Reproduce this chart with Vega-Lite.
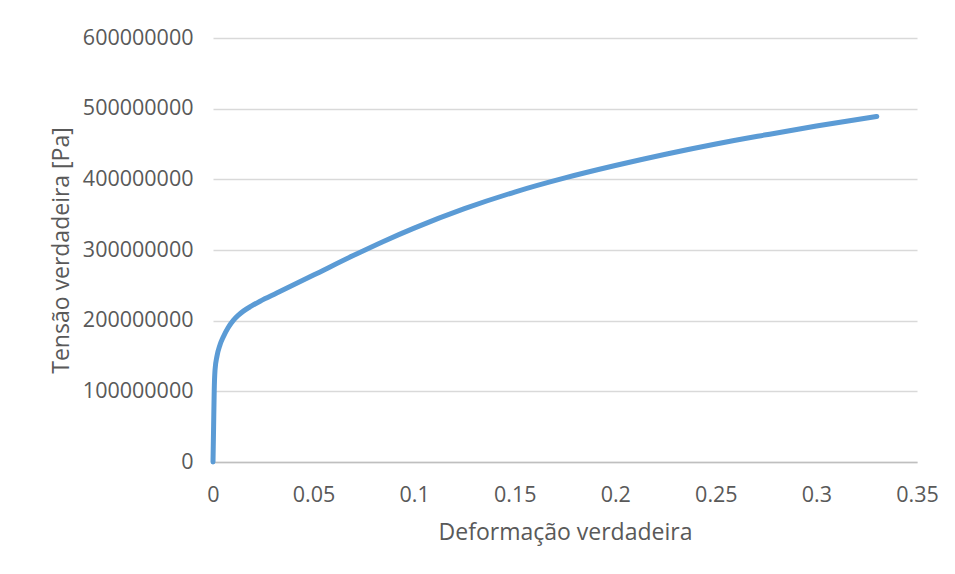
{
  "$schema": "https://vega.github.io/schema/vega-lite/v6.json",
  "width": 704,
  "height": 424,
  "autosize": "none",
  "padding": {"left": 213, "top": 38, "right": 38, "bottom": 112},
  "background": "white",
  "config": {
    "view": {"stroke": null},
    "font": "Open Sans",
    "axis": {
      "labelFont": "Open Sans",
      "titleFont": "Open Sans",
      "labelFontSize": 21.5,
      "titleFontSize": 23,
      "labelColor": "#595959",
      "titleColor": "#595959",
      "titleFontWeight": "normal",
      "ticks": false,
      "tickSize": 0,
      "labelFlush": false,
      "gridColor": "#D9D9D9",
      "gridWidth": 1.3
    }
  },
  "data": {
    "values": [
      {"strain": 0, "stress": 0},
      {"strain": 0.0003, "stress": 50000000},
      {"strain": 0.0006, "stress": 100000000},
      {"strain": 0.001, "stress": 130000000},
      {"strain": 0.002, "stress": 150000000},
      {"strain": 0.0035, "stress": 166000000},
      {"strain": 0.0051, "stress": 177000000},
      {"strain": 0.0075, "stress": 190000000},
      {"strain": 0.0101, "stress": 200500000},
      {"strain": 0.0125, "stress": 207500000},
      {"strain": 0.0151, "stress": 213500000},
      {"strain": 0.019, "stress": 220500000},
      {"strain": 0.0234, "stress": 227500000},
      {"strain": 0.0317, "stress": 239000000},
      {"strain": 0.05, "stress": 264500000},
      {"strain": 0.07, "stress": 292500000},
      {"strain": 0.085, "stress": 312500000},
      {"strain": 0.1, "stress": 331000000},
      {"strain": 0.125, "stress": 358500000},
      {"strain": 0.15, "stress": 382000000},
      {"strain": 0.175, "stress": 402000000},
      {"strain": 0.2, "stress": 419500000},
      {"strain": 0.225, "stress": 435500000},
      {"strain": 0.25, "stress": 450000000},
      {"strain": 0.275, "stress": 463000000},
      {"strain": 0.3, "stress": 475500000},
      {"strain": 0.33, "stress": 489000000}
    ]
  },
  "mark": {"type": "line", "color": "#5B9BD5", "strokeWidth": 5, "strokeCap": "round", "interpolate": "monotone"},
  "encoding": {
    "x": {
      "field": "strain",
      "type": "quantitative",
      "scale": {"domain": [0, 0.35], "nice": false},
      "axis": {
        "title": "Deformação verdadeira",
        "values": [0, 0.05, 0.1, 0.15, 0.2, 0.25, 0.3, 0.35],
        "format": "~f",
        "grid": false,
        "domainColor": "#BFBFBF",
        "domainWidth": 1.3,
        "labelPadding": 22,
        "titlePadding": 16
      }
    },
    "y": {
      "field": "stress",
      "type": "quantitative",
      "scale": {"domain": [0, 600000000], "nice": false},
      "axis": {
        "title": "Tensão verdadeira [Pa]",
        "values": [0, 100000000, 200000000, 300000000, 400000000, 500000000, 600000000],
        "format": "d",
        "domain": false,
        "labelPadding": 20,
        "titlePadding": 9
      }
    }
  }
}
